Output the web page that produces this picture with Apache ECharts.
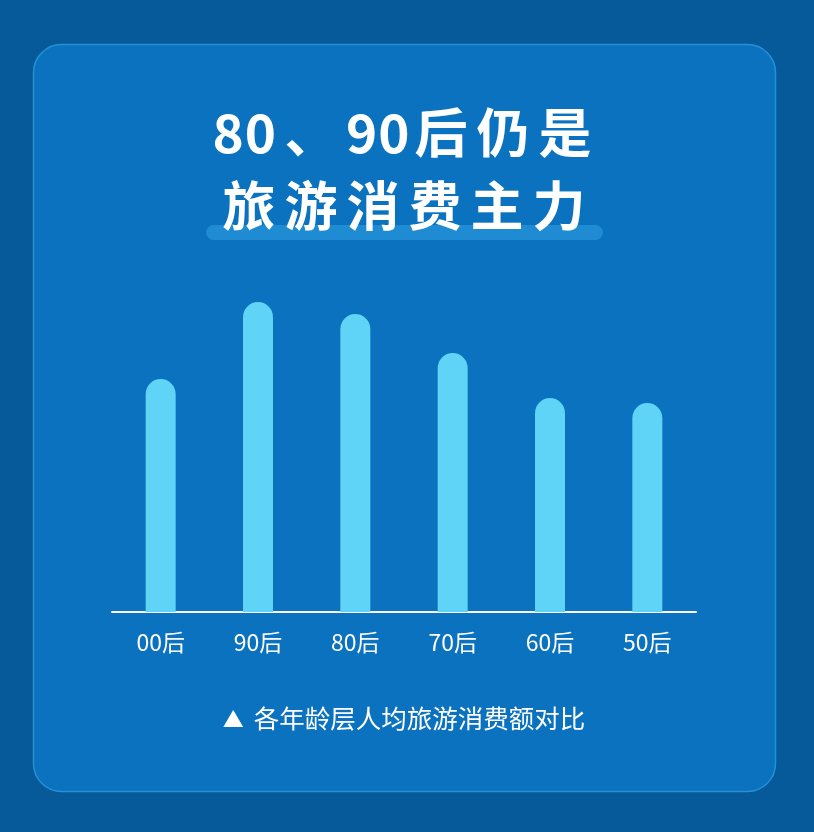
<!DOCTYPE html>
<html>
<head>
<meta charset="utf-8">
<script src="https://cdn.jsdelivr.net/npm/echarts@6/dist/echarts.min.js"></script>
<style>
html,body{margin:0;padding:0;background:#075a99;}
#main{width:814px;height:832px;}
</style>
</head>
<body>
<div id="main"></div>
<script>
var titleLines = ['80、90后仍是', '旅游消费主力'];
var categories = ['00后', '90后', '80后', '70后', '60后', '50后'];
var spending = [233, 310, 298, 259, 214, 209];
var caption = '▲ 各年龄层人均旅游消费额对比';

var chart = echarts.init(document.getElementById('main'), null, {renderer: 'canvas'});
var CJK = "'Noto Sans CJK SC', 'Noto Sans', sans-serif";

// wrap each character in a rich segment so the title gets its wide tracking
function tracked(s) {
  return s.split('').map(function (ch) {
    if (/[0-9]/.test(ch)) return '{d|' + ch + '}';
    if (ch === '、') return '{p|' + ch + '}';
    return '{c|' + ch + '}';
  }).join('');
}
var titleRich = {
  c: {fill: '#ffffff', fontSize: 53, fontWeight: 'bold', fontFamily: CJK, padding: [0, 4.5]},
  d: {fill: '#ffffff', fontSize: 53, fontWeight: 'bold', fontFamily: CJK, padding: [0, 0.5]},
  p: {fill: '#ffffff', fontSize: 53, fontWeight: 'bold', fontFamily: CJK, padding: [0, 8]}
};

// caption: small triangle marker, then the text
var capParts = caption.split(' ');
var captionRich = '{t|' + capParts[0] + '}{s|' + capParts.slice(1).join(' ') + '}';

chart.setOption({
  backgroundColor: '#075a99',
  animation: false,
  graphic: [
    {
      type: 'rect', z: -10,
      shape: {x: 33.5, y: 44.5, width: 742, height: 747, r: 28},
      style: {fill: '#0a72be', stroke: '#2590d6', lineWidth: 1.5}
    },
    {
      type: 'rect', z: -5,
      shape: {x: 206, y: 225, width: 397, height: 15, r: 7.5},
      style: {fill: '#1f8bd2'}
    },
    {
      type: 'text', z: 5,
      style: {
        text: tracked(titleLines[0]), rich: titleRich,
        x: 404, y: 133, align: 'center', verticalAlign: 'middle'
      }
    },
    {
      type: 'text', z: 5,
      style: {
        text: tracked(titleLines[1]), rich: titleRich,
        x: 404, y: 206, align: 'center', verticalAlign: 'middle'
      }
    },
    {
      type: 'text', z: 5,
      style: {
        text: captionRich, x: 404, y: 718, align: 'center', verticalAlign: 'middle',
        rich: {
          t: {fill: '#ffffff', fontSize: 21, fontFamily: CJK, padding: [2, 10, 0, 0]},
          s: {fill: '#ffffff', fontSize: 25.5, fontFamily: CJK}
        }
      }
    }
  ],
  grid: {left: 112, right: 118, top: 262, bottom: 220, containLabel: false},
  xAxis: {
    type: 'category',
    data: categories,
    axisLine: {show: true, lineStyle: {color: '#ffffff', width: 2}},
    axisTick: {show: false},
    axisLabel: {color: '#ffffff', fontSize: 23, fontFamily: CJK, margin: 19}
  },
  yAxis: {
    type: 'value', min: 0, max: 350,
    show: false,
    splitLine: {show: false}
  },
  series: [{
    type: 'bar',
    data: spending,
    barWidth: 30,
    itemStyle: {color: '#60d4f6', borderRadius: [15, 15, 0, 0]}
  }]
});
</script>
</body>
</html>
